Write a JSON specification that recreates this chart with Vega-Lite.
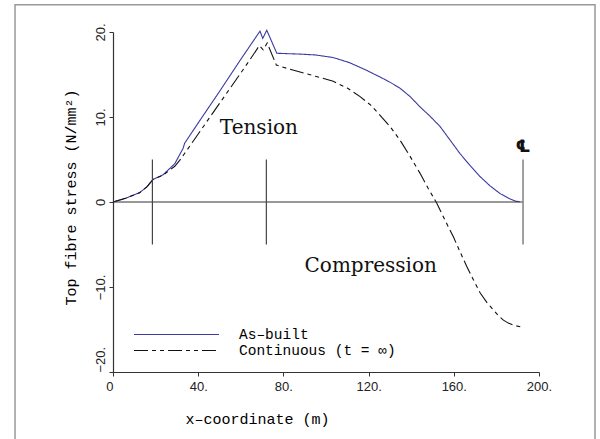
{
  "$schema": "https://vega.github.io/schema/vega-lite/v6.json",
  "width": 426,
  "height": 340,
  "autosize": "none",
  "padding": {"left": 113, "top": 32, "right": 61, "bottom": 67},
  "background": "white",
  "config": {"view": {"stroke": null}, "axis": {"grid": false}},
  "datasets": {
    "stress": [
      {"x": 0, "y": 0, "series": "As–built"},
      {"x": 6, "y": 0.45, "series": "As–built"},
      {"x": 12.5, "y": 1.1, "series": "As–built"},
      {"x": 16, "y": 1.8, "series": "As–built"},
      {"x": 18.8, "y": 2.65, "series": "As–built"},
      {"x": 23.5, "y": 3.2, "series": "As–built"},
      {"x": 29, "y": 4.5, "series": "As–built"},
      {"x": 32.9, "y": 6.3, "series": "As–built"},
      {"x": 33.6, "y": 6.9, "series": "As–built"},
      {"x": 40.8, "y": 9.6, "series": "As–built"},
      {"x": 50, "y": 13.0, "series": "As–built"},
      {"x": 59.5, "y": 16.6, "series": "As–built"},
      {"x": 69, "y": 20.1, "series": "As–built"},
      {"x": 70.3, "y": 19.25, "series": "As–built"},
      {"x": 72.2, "y": 20.2, "series": "As–built"},
      {"x": 76.9, "y": 17.5, "series": "As–built"},
      {"x": 82, "y": 17.45, "series": "As–built"},
      {"x": 87.8, "y": 17.4, "series": "As–built"},
      {"x": 95, "y": 17.3, "series": "As–built"},
      {"x": 103.3, "y": 17.0, "series": "As–built"},
      {"x": 111, "y": 16.4, "series": "As–built"},
      {"x": 119, "y": 15.5, "series": "As–built"},
      {"x": 125.4, "y": 14.7, "series": "As–built"},
      {"x": 130, "y": 14.1, "series": "As–built"},
      {"x": 134.7, "y": 13.4, "series": "As–built"},
      {"x": 139.5, "y": 12.4, "series": "As–built"},
      {"x": 144.1, "y": 11.2, "series": "As–built"},
      {"x": 148.8, "y": 10.1, "series": "As–built"},
      {"x": 153.5, "y": 8.9, "series": "As–built"},
      {"x": 158.2, "y": 7.3, "series": "As–built"},
      {"x": 162.9, "y": 5.7, "series": "As–built"},
      {"x": 167.6, "y": 4.3, "series": "As–built"},
      {"x": 172.3, "y": 3.0, "series": "As–built"},
      {"x": 177, "y": 1.9, "series": "As–built"},
      {"x": 181.7, "y": 1.0, "series": "As–built"},
      {"x": 186, "y": 0.4, "series": "As–built"},
      {"x": 189, "y": 0.1, "series": "As–built"},
      {"x": 191, "y": 0.02, "series": "As–built"},
      {"x": 0, "y": 0, "series": "Continuous (t = ∞)"},
      {"x": 6, "y": 0.45, "series": "Continuous (t = ∞)"},
      {"x": 12.5, "y": 1.1, "series": "Continuous (t = ∞)"},
      {"x": 16, "y": 1.8, "series": "Continuous (t = ∞)"},
      {"x": 18.8, "y": 2.65, "series": "Continuous (t = ∞)"},
      {"x": 23.5, "y": 3.15, "series": "Continuous (t = ∞)"},
      {"x": 29, "y": 4.2, "series": "Continuous (t = ∞)"},
      {"x": 31.3, "y": 4.9, "series": "Continuous (t = ∞)"},
      {"x": 33.6, "y": 5.7, "series": "Continuous (t = ∞)"},
      {"x": 40, "y": 8.0, "series": "Continuous (t = ∞)"},
      {"x": 50, "y": 11.6, "series": "Continuous (t = ∞)"},
      {"x": 59.5, "y": 15.0, "series": "Continuous (t = ∞)"},
      {"x": 64.2, "y": 16.7, "series": "Continuous (t = ∞)"},
      {"x": 68.7, "y": 18.4, "series": "Continuous (t = ∞)"},
      {"x": 70.5, "y": 17.9, "series": "Continuous (t = ∞)"},
      {"x": 72.4, "y": 18.7, "series": "Continuous (t = ∞)"},
      {"x": 76.7, "y": 16.1, "series": "Continuous (t = ∞)"},
      {"x": 82, "y": 15.7, "series": "Continuous (t = ∞)"},
      {"x": 87.8, "y": 15.3, "series": "Continuous (t = ∞)"},
      {"x": 95, "y": 14.8, "series": "Continuous (t = ∞)"},
      {"x": 103.4, "y": 14.2, "series": "Continuous (t = ∞)"},
      {"x": 110, "y": 13.4, "series": "Continuous (t = ∞)"},
      {"x": 116, "y": 12.4, "series": "Continuous (t = ∞)"},
      {"x": 121, "y": 11.4, "series": "Continuous (t = ∞)"},
      {"x": 125.4, "y": 10.2, "series": "Continuous (t = ∞)"},
      {"x": 130, "y": 8.9, "series": "Continuous (t = ∞)"},
      {"x": 134.7, "y": 7.3, "series": "Continuous (t = ∞)"},
      {"x": 139.4, "y": 5.4, "series": "Continuous (t = ∞)"},
      {"x": 144.1, "y": 3.4, "series": "Continuous (t = ∞)"},
      {"x": 148, "y": 1.6, "series": "Continuous (t = ∞)"},
      {"x": 151.9, "y": -0.1, "series": "Continuous (t = ∞)"},
      {"x": 155.8, "y": -2.1, "series": "Continuous (t = ∞)"},
      {"x": 159.8, "y": -4.1, "series": "Continuous (t = ∞)"},
      {"x": 163, "y": -5.9, "series": "Continuous (t = ∞)"},
      {"x": 166.1, "y": -7.6, "series": "Continuous (t = ∞)"},
      {"x": 169.3, "y": -9.2, "series": "Continuous (t = ∞)"},
      {"x": 172.4, "y": -10.7, "series": "Continuous (t = ∞)"},
      {"x": 175.5, "y": -11.8, "series": "Continuous (t = ∞)"},
      {"x": 178.6, "y": -12.7, "series": "Continuous (t = ∞)"},
      {"x": 181, "y": -13.4, "series": "Continuous (t = ∞)"},
      {"x": 183.3, "y": -13.9, "series": "Continuous (t = ∞)"},
      {"x": 185.6, "y": -14.25, "series": "Continuous (t = ∞)"},
      {"x": 188, "y": -14.5, "series": "Continuous (t = ∞)"},
      {"x": 191.8, "y": -14.7, "series": "Continuous (t = ∞)"}
    ]
  },
  "resolve": {"axis": {"x": "independent", "y": "independent"}},
  "layer": [
    {
      "data": {"name": "stress"},
      "mark": {"type": "line", "strokeWidth": 1.1},
      "encoding": {
        "x": {
          "field": "x",
          "type": "quantitative",
          "scale": {"domain": [0, 200]},
          "axis": {
            "title": "x–coordinate (m)",
            "values": [0, 40, 80, 120, 160, 200],
            "labelExpr": "datum.value == 0 ? '0' : datum.label + '.'",
            "format": "d",
            "labelAlign": {"condition": {"test": "datum.value == 0", "value": "right"}, "value": "center"},
            "labelFont": "Liberation Sans",
            "labelFontSize": 13,
            "labelColor": "#222222",
            "labelPadding": 4,
            "tickSize": 4,
            "tickColor": "#333333",
            "domainColor": "#333333",
            "domainWidth": 1.2,
            "titleFont": "Liberation Mono",
            "titleFontSize": 15,
            "titleFontWeight": "normal",
            "titleColor": "#000000",
            "titleX": 144,
            "titleY": 46,
            "titleBaseline": "middle",
            "titleAlign": "center"
          }
        },
        "y": {
          "field": "y",
          "type": "quantitative",
          "scale": {"domain": [-20, 20]},
          "axis": {
            "title": "Top fibre stress (N/mm²)",
            "values": [-20, -10, 0, 10, 20],
            "format": "d",
            "labelExpr": "datum.value == 0 ? '0' : datum.label + '.'",
            "labelFont": "Liberation Sans",
            "labelFontSize": 13,
            "labelColor": "#222222",
            "labelAngle": 270,
            "labelAlign": {"condition": {"test": "datum.value == -20", "value": "left"}, "value": "center"},
            "labelBaseline": "bottom",
            "labelPadding": 2,
            "tickSize": 4,
            "tickColor": "#333333",
            "domainColor": "#333333",
            "domainWidth": 1.2,
            "titleFont": "Liberation Mono",
            "titleFontSize": 15,
            "titleFontWeight": "normal",
            "titleColor": "#000000",
            "titleAngle": 270,
            "titleX": -43,
            "titleY": 165,
            "titleBaseline": "middle",
            "titleAlign": "center"
          }
        },
        "color": {
          "field": "series",
          "type": "nominal",
          "scale": {"domain": ["As–built", "Continuous (t = ∞)"], "range": ["#3a3aa0", "#111111"]},
          "legend": {
            "title": null,
            "orient": "none",
            "legendX": 54,
            "legendY": 293,
            "padding": 0,
            "symbolType": "M-5,0H5",
            "symbolSize": 289,
            "symbolStrokeWidth": 1.2,
            "labelFont": "Liberation Mono",
            "labelFontSize": 14.5,
            "labelColor": "#000000",
            "labelOffset": 53,
            "labelLimit": 400,
            "rowPadding": 0
          }
        },
        "strokeDash": {
          "field": "series",
          "type": "nominal",
          "scale": {"domain": ["As–built", "Continuous (t = ∞)"], "range": [[1, 0], [14, 4, 4, 4, 4, 4]]},
          "legend": {
            "title": null,
            "orient": "none",
            "legendX": 54,
            "legendY": 293,
            "padding": 0,
            "symbolType": "M-5,0H5",
            "symbolSize": 289,
            "symbolStrokeWidth": 1.2,
            "labelFont": "Liberation Mono",
            "labelFontSize": 14.5,
            "labelColor": "#000000",
            "labelOffset": 53,
            "labelLimit": 400,
            "rowPadding": 0
          }
        }
      }
    },
    {
      "data": {"values": [{}]},
      "mark": {"type": "rect", "fill": null, "stroke": "#999999", "strokeWidth": 1.5},
      "encoding": {
        "x": {"datum": -46, "type": "quantitative", "axis": null},
        "x2": {"datum": 226.3},
        "y": {"datum": 23.2, "type": "quantitative", "axis": null},
        "y2": {"datum": -28}
      }
    },
    {
      "data": {"values": [{}]},
      "mark": {"type": "rule", "stroke": "#333333", "strokeWidth": 1.2},
      "encoding": {
        "x": {"datum": 0, "type": "quantitative", "axis": null},
        "x2": {"datum": 192.5},
        "y": {"datum": 0, "type": "quantitative", "axis": null}
      }
    },
    {
      "data": {"values": [{}]},
      "mark": {"type": "rule", "stroke": "#444444", "strokeWidth": 1.2},
      "encoding": {
        "x": {"datum": 18.5, "type": "quantitative", "axis": null},
        "y": {"datum": -5, "type": "quantitative", "axis": null},
        "y2": {"datum": 5}
      }
    },
    {
      "data": {"values": [{}]},
      "mark": {"type": "rule", "stroke": "#444444", "strokeWidth": 1.2},
      "encoding": {
        "x": {"datum": 72, "type": "quantitative", "axis": null},
        "y": {"datum": -5, "type": "quantitative", "axis": null},
        "y2": {"datum": 5}
      }
    },
    {
      "data": {"values": [{}]},
      "mark": {"type": "rule", "stroke": "#888888", "strokeWidth": 1.6},
      "encoding": {
        "x": {"datum": 192.5, "type": "quantitative", "axis": null},
        "y": {"datum": -5, "type": "quantitative", "axis": null},
        "y2": {"datum": 5}
      }
    },
    {
      "data": {"values": [{}]},
      "mark": {"type": "text", "text": "℄", "font": "DejaVu Sans", "fontSize": 17, "fontWeight": "bold", "align": "center", "baseline": "middle", "color": "#111111"},
      "encoding": {
        "x": {"datum": 192.5, "type": "quantitative", "axis": null},
        "y": {"datum": 6.5, "type": "quantitative", "axis": null}
      }
    },
    {
      "data": {"values": [{}]},
      "mark": {"type": "text", "text": "Tension", "font": "DejaVu Serif", "fontSize": 20, "align": "center", "baseline": "middle", "color": "#111111"},
      "encoding": {
        "x": {"datum": 68.5, "type": "quantitative", "axis": null},
        "y": {"datum": 8.7, "type": "quantitative", "axis": null}
      }
    },
    {
      "data": {"values": [{}]},
      "mark": {"type": "text", "text": "Compression", "font": "DejaVu Serif", "fontSize": 20, "align": "center", "baseline": "middle", "color": "#111111"},
      "encoding": {
        "x": {"datum": 121, "type": "quantitative", "axis": null},
        "y": {"datum": -7.5, "type": "quantitative", "axis": null}
      }
    }
  ]
}
